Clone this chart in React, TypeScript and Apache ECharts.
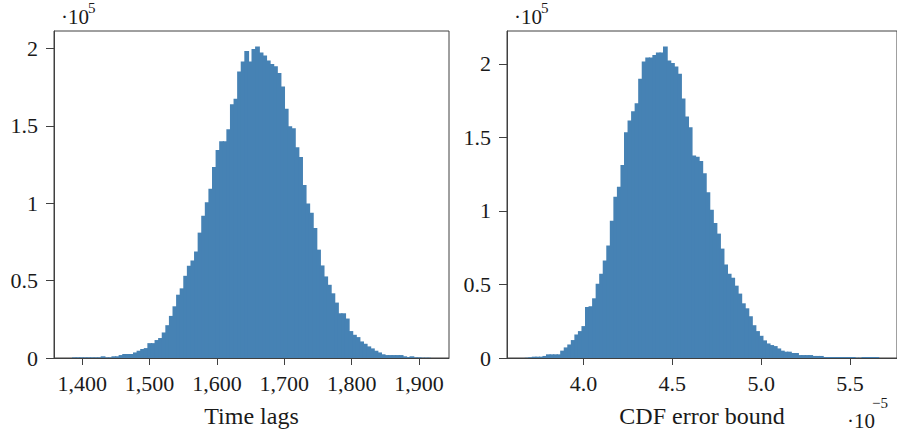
import React, { useEffect, useRef } from 'react';
import * as echarts from 'echarts';

// Histogram of time lags: 100 bins between lagRange[0] and lagRange[1]; counts in units of 1e5
const lagRange = [1384.7, 1917.8];
const lagCounts = [
  0.004, 0.004, 0.004, 0.004, 0.004, 0.004, 0.004, 0.004, 0.011, 0.004,
  0.004, 0.011, 0.011, 0.019, 0.026, 0.026, 0.026, 0.036, 0.047, 0.058,
  0.064, 0.096, 0.096, 0.116, 0.129, 0.165, 0.212, 0.272, 0.334, 0.409,
  0.450, 0.531, 0.596, 0.630, 0.688, 0.810, 0.919, 1.007, 1.093, 1.234,
  1.343, 1.401, 1.401, 1.478, 1.639, 1.675, 1.851, 1.915, 1.984, 1.915,
  1.997, 2.012, 1.973, 1.954, 1.922, 1.900, 1.885, 1.842, 1.754, 1.611,
  1.497, 1.485, 1.362, 1.298, 1.118, 0.998, 0.938, 0.840, 0.700, 0.598,
  0.527, 0.473, 0.418, 0.358, 0.289, 0.289, 0.255, 0.174, 0.150, 0.135,
  0.107, 0.092, 0.075, 0.062, 0.047, 0.036, 0.024, 0.019, 0.019, 0.019,
  0.019, 0.019, 0.011, 0.006, 0.011, 0.004, 0.004, 0.002, 0.002, 0.002,
];

// Histogram of CDF error bound (units of 1e-5); counts in units of 1e5
const errRange = [3.670, 5.664];
const errCounts = [
  0.002, 0.005, 0.009, 0.009, 0.009, 0.014, 0.025, 0.025, 0.025, 0.025,
  0.050, 0.072, 0.092, 0.122, 0.160, 0.183, 0.217, 0.347, 0.352, 0.406,
  0.505, 0.573, 0.663, 0.765, 0.934, 1.096, 1.164, 1.313, 1.536, 1.615,
  1.678, 1.732, 1.899, 2.016, 2.043, 2.043, 2.061, 2.077, 2.077, 2.118,
  2.023, 2.007, 1.982, 1.933, 1.764, 1.642, 1.570, 1.378, 1.369, 1.340,
  1.256, 1.128, 1.008, 0.918, 0.846, 0.744, 0.636, 0.573, 0.546, 0.492,
  0.438, 0.372, 0.338, 0.284, 0.223, 0.183, 0.151, 0.120, 0.099, 0.088,
  0.081, 0.065, 0.050, 0.043, 0.043, 0.034, 0.034, 0.020, 0.020, 0.020,
  0.020, 0.014, 0.014, 0.014, 0.007, 0.007, 0.007, 0.007, 0.007, 0.007,
  0.007, 0.007, 0.007, 0.002, 0.002, 0.007, 0.007, 0.007, 0.007, 0.007,
];

const lagTicks = [1400, 1500, 1600, 1700, 1800, 1900];
const errTicks = [4.0, 4.5, 5.0, 5.5];
const yTicks = [0, 0.5, 1, 1.5, 2];

const xNames = ['Time lags', 'CDF error bound'];

const FONT = "'Liberation Serif', 'Times New Roman', serif";
const TEXT = '#1a1a1a';
const AXIS = '#404040';
const BAR = '#4682b4';

function toBins(range: number[], counts: number[]) {
  const n = counts.length;
  const w = (range[1] - range[0]) / n;
  return counts.map((c, i) => [range[0] + i * w, range[0] + (i + 1) * w, c]);
}

function enlarged(range: number[], f: number) {
  const d = (range[1] - range[0]) * f;
  return [range[0] - d, range[1] + d];
}

export default function App() {
  const ref = useRef<HTMLDivElement>(null);
  useEffect(() => {
    if (!ref.current) return;
    const chart = echarts.init(ref.current, undefined, { renderer: 'svg' });
    const lagExt = enlarged(lagRange, 0.05);
    const errExt = enlarged(errRange, 0.05);
    const lagMax = Math.max(...lagCounts) * 1.05;
    const errMax = Math.max(...errCounts) * 1.05;

    const renderItem = (params: any, api: any) => {
      const x0 = api.value(0);
      const x1 = api.value(1);
      const y = api.value(2);
      const p0 = api.coord([x0, y]);
      const p1 = api.coord([x1, 0]);
      const last = params.dataIndex === params.dataInsideLength - 1;
      return {
        type: 'rect',
        shape: { x: p0[0], y: p0[1], width: p1[0] - p0[0] + (last ? 0 : 1.2), height: p1[1] - p0[1] },
        style: { fill: BAR, stroke: null, lineWidth: 0 },
      };
    };

    const xAxisCommon = (gi: number, ext: number[], ticks: number[], fmt: (v: number) => string, name: string) => ({
      type: 'value',
      gridIndex: gi,
      min: ext[0],
      max: ext[1],
      name,
      nameLocation: 'middle',
      nameGap: 46,
      nameTextStyle: { fontFamily: FONT, fontSize: 24, color: TEXT },
      axisLine: { show: true, onZero: false, lineStyle: { color: AXIS, width: 1 } },
      axisTick: { show: true, inside: false, length: 7, customValues: ticks, lineStyle: { color: AXIS, width: 1 } },
      axisLabel: {
        show: true,
        customValues: ticks,
        margin: 14,
        fontFamily: FONT,
        fontSize: 22,
        color: TEXT,
        formatter: (v: number) => fmt(v),
      },
      splitLine: { show: false },
    });

    const yAxisCommon = (gi: number, max: number) => ({
      type: 'value',
      gridIndex: gi,
      min: 0,
      max,
      axisLine: { show: true, lineStyle: { color: AXIS, width: 1 } },
      axisTick: { show: true, inside: false, length: 8, customValues: yTicks, lineStyle: { color: AXIS, width: 1 } },
      axisLabel: {
        show: true,
        customValues: yTicks,
        margin: 16,
        fontFamily: FONT,
        fontSize: 22,
        color: TEXT,
        formatter: (v: number) => String(v),
      },
      splitLine: { show: false },
    });

    const txt = (x: number, y: number, text: string, size: number) => ({
      type: 'text',
      x,
      y,
      style: { text, fontFamily: FONT, fontSize: size, fill: TEXT, verticalAlign: 'middle', align: 'left' },
    });

    chart.setOption({
      animation: false,
      grid: [
        { left: 54, top: 31, width: 395, height: 328, show: true, borderColor: AXIS, borderWidth: 1, containLabel: false },
        { left: 507, top: 31, width: 395, height: 328, show: true, borderColor: AXIS, borderWidth: 1, containLabel: false },
      ],
      xAxis: [
        xAxisCommon(0, lagExt, lagTicks, (v) => v.toLocaleString('en-US'), xNames[0]),
        xAxisCommon(1, errExt, errTicks, (v) => v.toFixed(1), xNames[1]),
      ],
      yAxis: [yAxisCommon(0, lagMax), yAxisCommon(1, errMax)],
      series: [
        {
          type: 'custom',
          xAxisIndex: 0,
          yAxisIndex: 0,
          renderItem,
          encode: { x: [0, 1], y: 2 },
          data: toBins(lagRange, lagCounts),
          z: 3,
        },
        {
          type: 'custom',
          xAxisIndex: 1,
          yAxisIndex: 1,
          renderItem,
          encode: { x: [0, 1], y: 2 },
          data: toBins(errRange, errCounts),
          z: 3,
        },
      ],
      graphic: [
        txt(61, 17, '·10', 21),
        txt(88, 8, '5', 15),
        txt(514, 17, '·10', 21),
        txt(541, 8, '5', 15),
        txt(847, 421, '·10', 21),
        txt(872, 403, '−5', 15),
      ],
    });
    return () => chart.dispose();
  }, []);

  return (
    <div
      ref={ref}
      style={{ position: 'absolute', left: 0, top: 0, width: 897, height: 433, overflow: 'hidden', background: '#fff' }}
    />
  );
}
